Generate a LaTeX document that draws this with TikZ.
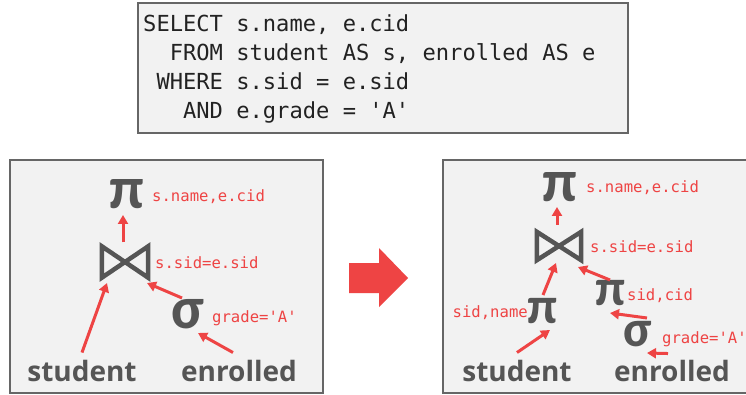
\documentclass[tikz,border=0pt]{standalone}
\usepackage{fontspec}
\newfontfamily\monof{DejaVu Sans Mono}
\newfontfamily\sansf{Open Sans}
\newfontfamily\greekf{Carlito}
\usetikzlibrary{arrows.meta}
\definecolor{redA}{HTML}{EE4444}
\definecolor{grayT}{HTML}{555555}
\definecolor{boxF}{HTML}{F2F2F2}
\definecolor{boxD}{HTML}{666666}
\definecolor{sqlT}{HTML}{222222}
\begin{document}
\begin{tikzpicture}[x=1pt,y=-1pt,
  panel/.style={fill=boxF, draw=boxD, line width=2pt},
  sql/.style={anchor=base west, inner sep=0pt, text=sqlT, font=\monof\fontsize{22.1}{26}\selectfont},
  lbl/.style={anchor=base west, inner sep=0pt, text=redA, font=\monof\fontsize{15.6}{18}\selectfont},
  lble/.style={lbl, anchor=base east},
  op/.style={inner sep=0pt, text=grayT, font=\greekf\bfseries\fontsize{60}{64}\selectfont},
  opsm/.style={op, font=\greekf\bfseries\fontsize{52}{56}\selectfont},
  rel/.style={anchor=base, inner sep=0pt, text=grayT, font=\sansf\bfseries\fontsize{28}{32}\selectfont},
  joinbox/.style={inner sep=0pt, minimum width=46pt, minimum height=31pt},
  joinsm/.style={inner sep=0pt, minimum width=44pt, minimum height=28pt},
  bowtie/.style={draw=grayT, line width=4.5pt, line join=miter},
  arr/.style={draw=redA, line width=3pt, -{Triangle[length=9pt,width=10pt]}},
  bigarrow/.style={fill=redA, draw=none}]
\useasboundingbox (0,0) rectangle (746,395);
\fill[white] (0,0) rectangle (746,395);

% SQL box
\draw[panel] (138,3) rectangle (628,133);
\node[sql] (q1) at (143,32) {SELECT s.name, e.cid};
\node[sql] (q2) at (143,61) {\hphantom{SE}FROM student AS s, enrolled AS e};
\node[sql] (q3) at (143,90) {\hphantom{S}WHERE s.sid = e.sid};
\node[sql] (q4) at (143,119) {\hphantom{SEL}AND e.grade = 'A'};

% panels
\begin{scope}
\clip (0,0) rectangle (746,395);
\draw[panel] (10,160) rectangle (323,393);
\draw[panel] (443,160) rectangle (760,393);
\end{scope}

% big arrow
\fill[bigarrow] (349,263) -- (379,263) -- (379,248) -- (408,278) -- (379,307) -- (379,293) -- (349,293) -- cycle;

% ---------- left tree ----------
\node[op] (p1) at (127,194) {π};
\node[lbl] (p1l) at (152,202) {s.name,e.cid};
\node[joinbox] (j1) at (125,262) {};
\draw[bowtie] (j1.north west) -- (j1.south west) -- (j1.north east) -- (j1.south east) -- cycle;
\node[lbl] (j1l) at (155,268) {s.sid=e.sid};
\node[op] (s1) at (188,314) {σ};
\node[lbl] (s1l) at (212,322) {grade='A'};
\node[rel] (st1) at (82,381) {student};
\node[rel] (en1) at (239,381) {enrolled};

\draw[arr] ([shift={(-2,-4)}]j1.north) -- ([shift={(-4,21)}]p1.center);
\draw[arr] ([shift={(0,-7)}]st1.north) -- ([shift={(-18,21)}]j1.center);
\draw[arr] ([shift={(-6,-16)}]s1.center) -- ([shift={(22,21)}]j1.center);
\draw[arr] ([shift={(-6,-7)}]en1.north) -- ([shift={(10,19)}]s1.center);

% ---------- right tree ----------
\node[op] (p2) at (560,187) {π};
\node[lbl] (p2l) at (586,193) {s.name,e.cid};
\node[joinsm] (j2) at (559,246) {};
\draw[bowtie] (j2.north west) -- (j2.south west) -- (j2.north east) -- (j2.south east) -- cycle;
\node[lbl] (j2l) at (590,252) {s.sid=e.sid};
\node[opsm] (p3) at (543,311) {π};
\node[lble] (p3l) at (528,317) {sid,name};
\node[opsm] (p4) at (611,293) {π};
\node[lbl] (p4l) at (627,300) {sid,cid};
\node[opsm] (s2) at (638,334) {σ};
\node[lbl] (s2l) at (662,343) {grade='A'};
\node[rel] (st2) at (517,381) {student};
\node[rel] (en2) at (672,381) {enrolled};

\draw[arr] ([shift={(-2,-21)}]j2.center) -- ([shift={(-3,20)}]p2.center);
\draw[arr] ([shift={(0,-16)}]p3.center) -- ([shift={(-3,17)}]j2.center);
\draw[arr] ([shift={(-1,-13)}]p4.center) -- ([shift={(19,21)}]j2.center);
\draw[arr] ([shift={(9,-16)}]s2.center) -- ([shift={(-1,20)}]p4.center);
\draw[arr] ([shift={(0,-7)}]st2.north) -- ([shift={(7,19)}]p3.center);
\draw[arr] ([shift={(-4,-6)}]en2.north) -- ([shift={(9,19)}]s2.center);
\end{tikzpicture}
\end{document}
